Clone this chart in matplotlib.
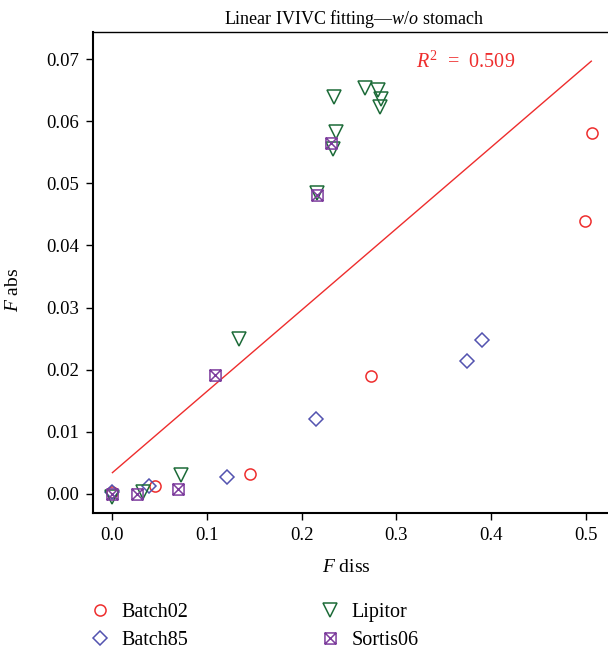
import matplotlib
matplotlib.use("Agg")
import matplotlib.pyplot as plt
from matplotlib.path import Path

# =========================================================
# DATA
# =========================================================
batch02_x = [0.0, 0.045, 0.145, 0.273, 0.499, 0.507]
batch02_y = [0.0002, 0.0012, 0.0032, 0.0189, 0.0440, 0.0582]

batch85_x = [0.0, 0.039, 0.121, 0.215, 0.375, 0.391]
batch85_y = [0.0002, 0.0013, 0.0027, 0.0121, 0.0214, 0.0248]

lipitor_x = [0.0, 0.032, 0.072, 0.134, 0.216, 0.233, 0.236, 0.234, 0.267, 0.281, 0.284, 0.283]
lipitor_y = [-0.0005, 0.0003, 0.0030, 0.0250, 0.0485, 0.0556, 0.0583, 0.0639, 0.0654, 0.0650, 0.0636, 0.0623]

sortis06_x = [0.0, 0.026, 0.069, 0.108, 0.216, 0.231]
sortis06_y = [0.0, 0.0, 0.0007, 0.0192, 0.0481, 0.0565]

fit_x = [0.0, 0.506]
fit_y = [0.0034, 0.0697]
r2_text = "0.509"

x_ticks = [0.0, 0.1, 0.2, 0.3, 0.4, 0.5]
y_ticks = [0.00, 0.01, 0.02, 0.03, 0.04, 0.05, 0.06, 0.07]

# =========================================================
# STYLE
# =========================================================
plt.rcParams["font.family"] = ["Liberation Serif", "DejaVu Serif"]
plt.rcParams["mathtext.fontset"] = "custom"
plt.rcParams["mathtext.rm"] = "Liberation Serif"
plt.rcParams["mathtext.it"] = "Liberation Serif:italic"

RED = "#ee2d2d"
BLUE = "#5353b0"
GREEN = "#1c6b38"
PURPLE = "#7d3d9d"

# square with a cross inside
box_x = Path(
    [(-1, -1), (1, -1), (1, 1), (-1, 1), (-1, -1), (-1, -1), (1, 1), (-1, 1), (1, -1)],
    [Path.MOVETO, Path.LINETO, Path.LINETO, Path.LINETO, Path.CLOSEPOLY,
     Path.MOVETO, Path.LINETO, Path.MOVETO, Path.LINETO],
)

fig = plt.figure(figsize=(6.08, 6.49), dpi=100)
ax = fig.add_axes([0.153, 0.2096, 0.86, 0.7411])

ax.plot(fit_x, fit_y, color=RED, linewidth=1.0, zorder=1)

ax.plot(batch02_x, batch02_y, linestyle="none", marker="o", markersize=8,
        markerfacecolor="none", markeredgecolor=RED, markeredgewidth=1.1, label="Batch02")
ax.plot(batch85_x, batch85_y, linestyle="none", marker="D", markersize=7.5,
        markerfacecolor="none", markeredgecolor=BLUE, markeredgewidth=1.1, label="Batch85")
ax.plot(lipitor_x, lipitor_y, linestyle="none", marker="v", markersize=10,
        markerfacecolor="none", markeredgecolor=GREEN, markeredgewidth=1.1, label="Lipitor")
ax.plot(sortis06_x, sortis06_y, linestyle="none", marker=box_x, markersize=8,
        markerfacecolor="none", markeredgecolor=PURPLE, markeredgewidth=1.1, label="Sortis06")

ax.text(0.373, 0.0696, r"$R^2$  =  " + r2_text, color=RED, fontsize=14.5,
        ha="center", va="center")

ax.set_xlim(-0.0205, 0.532)
ax.set_ylim(-0.0031, 0.0744)
ax.set_xticks(x_ticks)
ax.set_xticklabels([f"{v:.1f}" for v in x_ticks])
ax.set_yticks(y_ticks)
ax.set_yticklabels([f"{v:.2f}" for v in y_ticks])
ax.tick_params(direction="out", length=5, width=1, labelsize=13.5, pad=5)

ax.spines["right"].set_visible(False)
ax.spines["left"].set_linewidth(1.5)
ax.spines["bottom"].set_linewidth(1.5)
ax.spines["top"].set_linewidth(1.0)

ax.set_title(r"Linear IVIVC fitting—$\it{w/o}$ stomach", fontsize=13, pad=6)
ax.set_xlabel(r"$\it{F}$ diss", fontsize=14)
ax.set_ylabel(r"$\it{F}$ abs", fontsize=14)
ax.xaxis.set_label_coords(0.485, -0.095)
ax.yaxis.set_label_coords(-0.135, 0.464)

handles, labels = ax.get_legend_handles_labels()
fig.legend(handles, labels, ncol=2, loc="upper left", bbox_to_anchor=(0.134, 0.083),
           frameon=False, fontsize=14.5, handletextpad=0.6, columnspacing=6.5,
           labelspacing=0.42, handlelength=1.0, borderaxespad=0)

fig.savefig("out.png", dpi=100)
